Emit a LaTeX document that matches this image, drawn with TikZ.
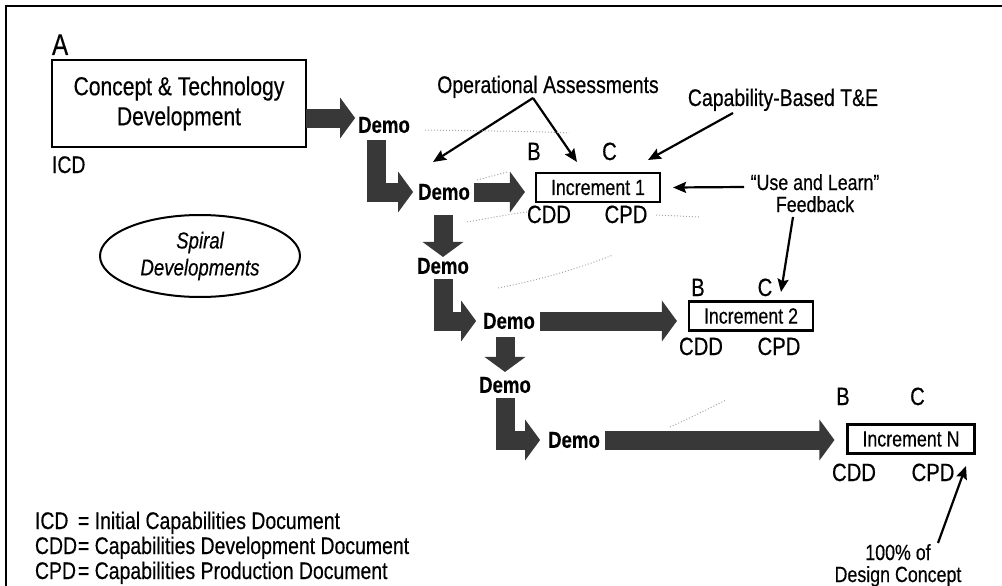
\documentclass[tikz,border=0pt]{standalone}
\usepackage{fontspec}
\setmainfont{Liberation Sans}[FakeStretch=0.81, FakeBold=0.4]
\usetikzlibrary{arrows.meta,calc,shapes.geometric}

\begin{document}
\begin{tikzpicture}[x=1pt,y=-1pt,
  every node/.style={inner sep=0pt, outer sep=0pt},
  lbl/.style={font=\fontsize{24}{26}\selectfont},
  letter/.style={font=\fontsize{25}{27}\selectfont, anchor=base},
  demo/.style={font=\bfseries\fontsize{23}{25}\selectfont},
  incbox/.style={draw, line width=2.5, font=\fontsize{22}{24}\selectfont,
    minimum height=29, inner xsep=15},
  fat/.style={line width=19, draw=black!78, line join=miter,
    -{Triangle[length=15pt 0 0, width=40pt 0 0]}},
  thinarrow/.style={line width=2.2,
    -{Stealth[length=13pt 0 0, width=11pt 0 0, inset=2pt]}},
  faint/.style={draw=black!35, dotted, line width=1}
]
\useasboundingbox (0,0) rectangle (1002,586);

% frame
\draw[line width=2.5] (1002,6) -- (6,6) -- (6,586);

% concept stage
\node[anchor=base west, font=\fontsize{30}{32}\selectfont] (A) at (52,55) {A};
\node[draw, line width=2.5, minimum width=254, minimum height=87, align=center,
  font=\fontsize{26}{30}\selectfont] (ctd) at (179,103.5)
  {Concept \& Technology\\Development};
\node[lbl, anchor=base west] (icd) at (52,173) {ICD};

% spiral label
\node[draw, ellipse, line width=2, minimum width=200, minimum height=82,
  align=center, font=\itshape\fontsize{23}{27}\selectfont] (spiral) at (200,256)
  {Spiral\\Developments};

% demo steps
\node[demo] (demo1) at (384,125) {Demo};
\node[demo] (demo2) at (444,192) {Demo};
\node[demo] (demo3) at (443,266) {Demo};
\node[demo] (demo4) at (509,321) {Demo};
\node[demo] (demo5) at (505,385) {Demo};
\node[demo] (demo6) at (574,440) {Demo};

% increments
\node[incbox] (inc1) at (598,187.5) {Increment 1};
\node[incbox] (inc2) at (751,316) {Increment 2};
\node[incbox] (incN) at (911,439) {Increment N};

\node[letter] (b1) at (534,160) {B};
\node[letter] (c1) at (609.5,160) {C};
\node[letter] (cdd1) at (549,223) {CDD};
\node[letter] (cpd1) at (626,223) {CPD};

\node[letter] (b2) at (698,296) {B};
\node[letter] (c2) at (765,296) {C};
\node[letter] (cdd2) at (701,355) {CDD};
\node[letter] (cpd2) at (779,355) {CPD};

\node[letter] (bN) at (843,405) {B};
\node[letter] (cN) at (917.5,405) {C};
\node[letter] (cddN) at (854,481) {CDD};
\node[letter] (cpdN) at (933,481) {CPD};

% wide arrows
\draw[fat] ($(ctd.east)+(0,14.5)$) -- ($(demo1.west)+(-3,-7)$);
\draw[fat] ($(demo1.south)+(-8,7)$) |- ($(demo2.west)+(-5,0)$);
\draw[fat] ($(demo2.east)+(4,0)$) -- ($(demo2.east -| inc1.west)+(-11,0)$);
\draw[fat] ($(demo3.north)+(0,-43)$) -- ($(demo3.north)+(0,-1)$);
\draw[fat] ($(demo3.south)+(0,5)$) |- ($(demo4.west)+(-7,0)$);
\draw[fat] ($(demo4.east)+(5,0)$) -- ($(demo4.east -| inc2.west)+(-12,0)$);
\draw[fat] ($(demo5.north)+(0,-40)$) -- ($(demo5.north)+(0,-5)$);
\draw[fat] ($(demo5.south)+(0,5)$) |- ($(demo6.west)+(-8,0)$);
\draw[fat] ($(demo6.east)+(5,0)$) -- ($(demo6.east -| incN.west)+(-13,0)$);

% annotations
\node[lbl, anchor=base] (opas) at (548,93) {Operational Assessments};
\coordinate (apex) at (533,98);
\coordinate (opasL) at (433,162);
\coordinate (opasR) at (577,162);
\draw[thinarrow] (apex) -- (opasL);
\draw[thinarrow] (apex) -- (opasR);

\node[lbl, anchor=base] (cap) at (783,106) {Capability-Based T\&E};
\coordinate (capS) at (733,113);
\coordinate (capT) at (648,160);
\draw[thinarrow] (capS) -- (capT);

\node[anchor=base, align=center, font=\fontsize{22}{22}\selectfont] (ul) at (815,212)
  {“Use and Learn”\\Feedback};
\coordinate (ulS) at (744,187);
\draw[thinarrow] (ulS) -- ($(inc1.east)+(13,0)$);
\coordinate (fbS) at (793,217);
\coordinate (fbT) at (781,292);
\draw[thinarrow] (fbS) -- (fbT);

\node[anchor=base, align=center, font=\fontsize{22}{22}\selectfont] (dc) at (898,582)
  {100\% of\\Design Concept};
\coordinate (dcS) at (938,543);
\coordinate (dcT) at (966,466);
\draw[thinarrow] (dcS) -- (dcT);

% legend
\node[lbl, anchor=base west] (l1) at (35,529) {\makebox[43pt][l]{ICD}= Initial Capabilities Document};
\node[lbl, anchor=base west] (l2) at (35,554) {\makebox[43pt][l]{CDD}= Capabilities Development Document};
\node[lbl, anchor=base west] (l3) at (35,579) {\makebox[43pt][l]{CPD}= Capabilities Production Document};

% faint dotted traces
\draw[faint] (425,130) .. controls (480,131) and (530,131) .. (569,133);
\draw[faint] (467,222) .. controls (490,218) and (510,214) .. (527,212);
\draw[faint] (656,215) -- (700,217);
\draw[faint] (498,288) .. controls (540,280) and (580,268) .. (613,255);
\draw[faint] (477,180) -- (507,172);
\draw[faint] (670,427) .. controls (690,418) and (710,408) .. (726,400);
\end{tikzpicture}
\end{document}
